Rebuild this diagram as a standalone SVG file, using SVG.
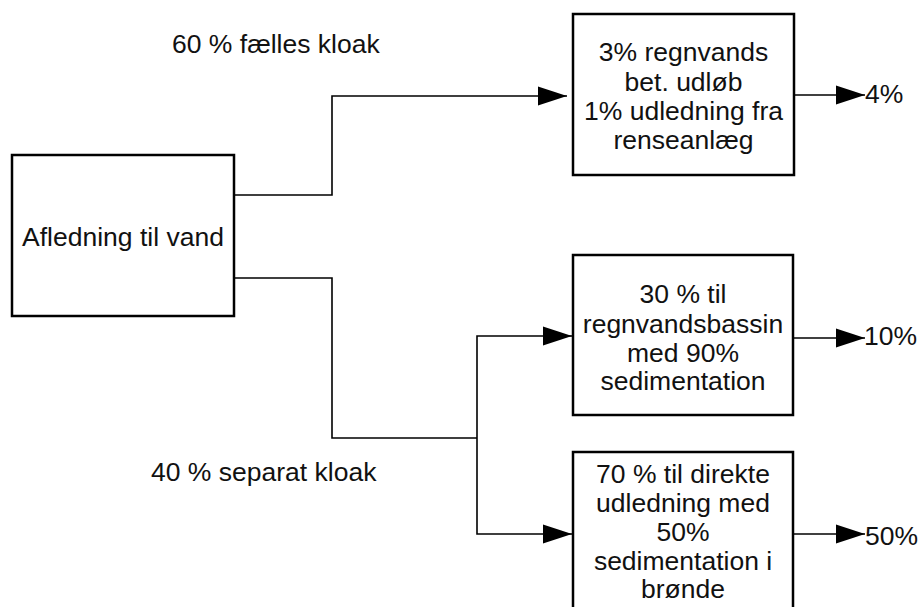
<svg xmlns="http://www.w3.org/2000/svg" width="918" height="607" viewBox="0 0 918 607">
<style>
.box{fill:#fff;stroke:#000;stroke-width:2.5}
.t{font-family:"Liberation Sans",Arial,sans-serif;font-size:26.5px;fill:#111}
.c{text-anchor:middle}
.ln{fill:none;stroke:#000;stroke-width:1.6}
</style>
<defs>
<marker id="ah" markerUnits="userSpaceOnUse" markerWidth="29" markerHeight="20" refX="29" refY="10" orient="auto">
<path d="M0,0.5 L29,10 L0,19.5 z" fill="#000"/>
</marker>
</defs>
<rect width="918" height="607" fill="#fff"/>
<g id="connectors">
<path class="ln" d="M234,195 H332 V96 H567" marker-end="url(#ah)"/>
<path class="ln" d="M234,278 H332 V438 H477"/>
<path class="ln" d="M477,438 V336 H572" marker-end="url(#ah)"/>
<path class="ln" d="M477,438 V534 H572" marker-end="url(#ah)"/>
<path class="ln" d="M794,95 H865" marker-end="url(#ah)"/>
<path class="ln" d="M793,338 H865" marker-end="url(#ah)"/>
<path class="ln" d="M793,534 H865" marker-end="url(#ah)"/>
</g>
<g id="label-faelles"><text class="t" x="172" y="53">60 % fælles kloak</text></g>
<g id="label-separat"><text class="t" x="151" y="481">40 % separat kloak</text></g>
<g id="node-afledning">
<rect class="box" x="12" y="155" width="222" height="161"/>
<text class="t c" x="123" y="246">Afledning til vand</text>
</g>
<g id="node-faelles">
<rect class="box" x="573" y="14" width="221" height="161"/>
<text class="t c" x="683.5" y="61">3% regnvands</text>
<text class="t c" x="683.5" y="90.5">bet. udløb</text>
<text class="t c" x="683.5" y="120">1% udledning fra</text>
<text class="t c" x="683.5" y="149">renseanlæg</text>
</g>
<g id="node-bassin">
<rect class="box" x="573" y="255" width="220" height="160"/>
<text class="t c" x="683" y="303">30 % til</text>
<text class="t c" x="683" y="332.5">regnvandsbassin</text>
<text class="t c" x="683" y="361.5">med 90%</text>
<text class="t c" x="683" y="390">sedimentation</text>
</g>
<g id="node-direkte">
<rect class="box" x="573" y="452" width="220" height="200"/>
<text class="t c" x="683" y="482.5">70 % til direkte</text>
<text class="t c" x="683" y="511.5">udledning med</text>
<text class="t c" x="683" y="540.5">50%</text>
<text class="t c" x="683" y="569.5">sedimentation i</text>
<text class="t c" x="683" y="598">brønde</text>
</g>
<g id="out-labels">
<text class="t" x="865" y="103">4%</text>
<text class="t" x="864" y="345">10%</text>
<text class="t" x="865" y="545">50%</text>
</g>
</svg>
